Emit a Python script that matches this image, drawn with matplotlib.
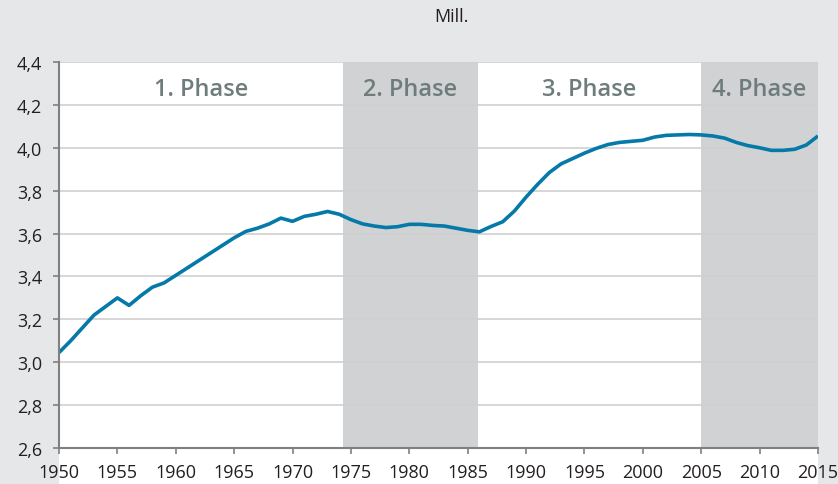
import matplotlib.pyplot as plt
from matplotlib.patches import Rectangle

# population (mill.) per year
years = list(range(1950, 2016))
population = [
    3.045, 3.10, 3.16, 3.22, 3.26, 3.30, 3.265, 3.31, 3.35, 3.37,
    3.405, 3.44, 3.475, 3.51, 3.545, 3.58, 3.61, 3.625, 3.645, 3.672,
    3.657, 3.68, 3.69, 3.703, 3.69, 3.665, 3.645, 3.635, 3.628, 3.632,
    3.643, 3.643, 3.638, 3.635, 3.625, 3.615, 3.608, 3.633, 3.655, 3.705,
    3.77, 3.83, 3.885, 3.925, 3.95, 3.975, 3.997, 4.015, 4.025, 4.03,
    4.035, 4.05, 4.058, 4.06, 4.062, 4.06, 4.055, 4.045, 4.025, 4.01,
    4.0, 3.988, 3.988, 3.993, 4.013, 4.055,
]

phase_labels = ['1. Phase', '2. Phase', '3. Phase', '4. Phase']
phase_bounds = [1950, 1974.3, 1985.85, 2005, 2015]
shaded = [False, True, False, True]

x_ticks = list(range(1950, 2016, 5))
y_ticks = [2.6, 2.8, 3.0, 3.2, 3.4, 3.6, 3.8, 4.0, 4.2, 4.4]
y_labels = ['2,6', '2,8', '3,0', '3,2', '3,4', '3,6', '3,8', '4,0', '4,2', '4,4']

plt.rcParams['font.family'] = ['Open Sans', 'DejaVu Sans']

fig = plt.figure(figsize=(8.38, 4.85), dpi=100)
fig.patch.set_facecolor('#e6e7e9')
ax = fig.add_axes([59 / 838, 36 / 485, 759 / 838, 386 / 485])

# white panel continues below the axis under the year labels
fig.patches.append(Rectangle((59 / 838, 0), 759 / 838, 36 / 485,
                             transform=fig.transFigure, facecolor='white',
                             edgecolor='none', zorder=-1))

for i, label in enumerate(phase_labels):
    x0, x1 = phase_bounds[i], phase_bounds[i + 1]
    if shaded[i]:
        ax.axvspan(x0, x1, color='#d1d2d4', lw=0, zorder=0)
    ax.text((x0 + x1) / 2, 4.275, label, ha='center', va='center',
            fontsize=17, fontweight='semibold', color='#6f7c7c', zorder=3)

ax.grid(axis='y', color='#d0d0d0', lw=1.2, zorder=1)
ax.set_axisbelow(True)
ax.plot(years, population, color='#0579a8', lw=2.6, zorder=4,
        solid_joinstyle='round', solid_capstyle='butt')

ax.set_xlim(1950, 2015)
ax.set_ylim(2.6, 4.4)
ax.set_xticks(x_ticks)
ax.set_yticks(y_ticks)
ax.set_yticklabels(y_labels)

for side in ['top', 'right']:
    ax.spines[side].set_visible(False)
for side in ['left', 'bottom']:
    ax.spines[side].set_color('#808080')
    ax.spines[side].set_linewidth(1.5)
    ax.spines[side].set_zorder(5)

ax.tick_params(axis='both', colors='#808080', labelcolor='#231f20',
               labelsize=13, length=4, width=1.2)
ax.tick_params(axis='y', pad=8)
ax.tick_params(axis='x', pad=7)

fig.text(451 / 838, 1 - 17 / 485, 'Mill.', ha='center', va='center',
         fontsize=13, color='#231f20')

fig.savefig('out.png', dpi=100, facecolor=fig.get_facecolor())
